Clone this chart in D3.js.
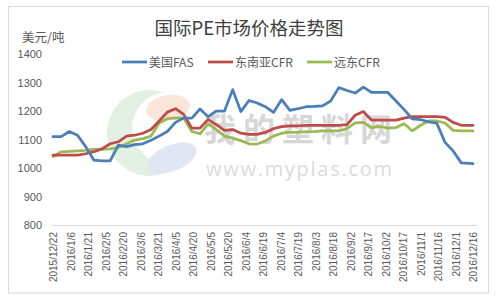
<!DOCTYPE html>
<html><head><meta charset="utf-8">
<script src="https://cdn.jsdelivr.net/npm/d3@7"></script>
<style>html,body{margin:0;padding:0;background:#fff;}svg{display:block;}</style>
</head><body>
<svg id="c" width="500" height="304"></svg>
<script>
const title = "国际PE市场价格走势图";
const unitLabel = "美元/吨";
const seriesNames = ["美国FAS", "东南亚CFR", "远东CFR"];
const seriesColors = ["#4a7ebb", "#be4b48", "#98b954"];
const dates = ["2015-12-22","2015-12-29","2016-01-05","2016-01-12","2016-01-19","2016-01-26","2016-02-02","2016-02-09","2016-02-16","2016-02-23","2016-03-01","2016-03-08","2016-03-15","2016-03-22","2016-03-29","2016-04-05","2016-04-12","2016-04-19","2016-04-26","2016-05-03","2016-05-10","2016-05-17","2016-05-24","2016-05-31","2016-06-07","2016-06-14","2016-06-21","2016-06-28","2016-07-05","2016-07-12","2016-07-19","2016-07-26","2016-08-02","2016-08-09","2016-08-16","2016-08-23","2016-08-30","2016-09-06","2016-09-13","2016-09-20","2016-09-27","2016-10-04","2016-10-11","2016-10-18","2016-10-25","2016-11-01","2016-11-08","2016-11-15","2016-11-22","2016-11-29","2016-12-06","2016-12-16"];
const usFAS = [1110,1110,1128,1115,1075,1028,1025,1025,1080,1075,1082,1085,1097,1112,1128,1160,1175,1175,1207,1180,1200,1200,1275,1198,1237,1228,1215,1195,1240,1202,1208,1215,1216,1218,1235,1282,1272,1263,1284,1265,1265,1265,1235,1205,1172,1170,1162,1157,1090,1060,1018,1015];
const seaCFR = [1045,1045,1045,1045,1050,1057,1067,1085,1092,1112,1115,1122,1135,1165,1196,1208,1188,1140,1140,1170,1152,1132,1135,1122,1118,1118,1125,1138,1145,1148,1148,1150,1150,1150,1150,1150,1152,1185,1198,1168,1168,1168,1168,1175,1180,1180,1180,1180,1178,1160,1150,1150];
const feCFR = [1040,1057,1058,1060,1062,1065,1065,1067,1072,1085,1098,1103,1112,1158,1173,1176,1175,1128,1120,1155,1135,1112,1105,1096,1085,1084,1095,1112,1122,1125,1126,1127,1128,1130,1130,1130,1138,1158,1160,1142,1146,1140,1142,1155,1130,1150,1165,1165,1158,1132,1130,1130];
const yTicks = [800,900,1000,1100,1200,1300,1400];
const xTickDates = ["2015-12-22","2016-01-06","2016-01-21","2016-02-05","2016-02-20","2016-03-06","2016-03-21","2016-04-05","2016-04-20","2016-05-05","2016-05-20","2016-06-04","2016-06-19","2016-07-04","2016-07-19","2016-08-03","2016-08-18","2016-09-02","2016-09-17","2016-10-02","2016-10-17","2016-11-01","2016-11-16","2016-12-01","2016-12-16"];
const xTickLabels = ["2015/12/22","2016/1/6","2016/1/21","2016/2/5","2016/2/20","2016/3/6","2016/3/21","2016/4/5","2016/4/20","2016/5/5","2016/5/20","2016/6/4","2016/6/19","2016/7/4","2016/7/19","2016/8/3","2016/8/18","2016/9/2","2016/9/17","2016/10/2","2016/10/17","2016/11/1","2016/11/16","2016/12/1","2016/12/16"];

const parse = d3.utcParse("%Y-%m-%d");
const svg = d3.select("#c");
const cjk = "'Noto Sans CJK SC','Noto Sans',sans-serif";
const num = "'Liberation Sans',Arial,sans-serif";

// frame
svg.append("rect").attr("x",8.5).attr("y",6.5).attr("width",480).attr("height",286.5)
  .attr("fill","#fff").attr("stroke","#d9d9d9").attr("stroke-width",1);

const x = d3.scaleUtc().domain([parse("2015-12-22"), parse("2016-12-16")]).range([53, 473]);
const y = d3.scaleLinear().domain([800, 1400]).range([225, 54]);

// watermark
const wm = svg.append("g").attr("opacity",0.45);
wm.append("circle").attr("cx",150).attr("cy",133).attr("r",43).attr("fill","#bfdcc3");
wm.append("circle").attr("cx",168).attr("cy",128).attr("r",36).attr("fill","#fff");
wm.append("ellipse").attr("cx",168).attr("cy",108).attr("rx",22).attr("ry",13)
  .attr("transform","rotate(-10,168,108)").attr("fill","#f6c9ad");
wm.append("ellipse").attr("cx",172).attr("cy",158).attr("rx",26).attr("ry",13)
  .attr("transform","rotate(-22,172,158)").attr("fill","#bcc8e4");
wm.append("text").attr("x",204).attr("y",141).attr("font-family",cjk).attr("font-weight","bold")
  .attr("font-size",32).attr("fill","#a8a8a8").attr("textLength",188).text("我的塑料网");
wm.append("text").attr("x",206).attr("y",176).attr("font-family","'Open Sans',sans-serif")
  .attr("font-size",20).attr("fill","#b0b0b0").attr("textLength",186).text("www.myplas.com");

// title
svg.append("text").attr("x",249).attr("y",35).attr("text-anchor","middle")
  .attr("font-family",cjk).attr("font-size",18.5).attr("fill","#404040").text(title);
svg.append("text").attr("x",22).attr("y",42).attr("font-family",cjk)
  .attr("font-size",12.5).attr("fill","#595959").text(unitLabel);

// y labels
svg.append("g").selectAll("text").data(yTicks).join("text")
  .attr("x",42).attr("y",d=>y(d)+4).attr("text-anchor","end")
  .attr("font-family",num).attr("font-size",11).attr("fill","#595959").text(d=>d);

// baseline
svg.append("line").attr("x1",52).attr("x2",477).attr("y1",y(800)+0.5).attr("y2",y(800)+0.5)
  .attr("stroke","#d9d9d9").attr("stroke-width",1);

// x axis
const xAxis = d3.axisBottom(x).tickValues(xTickDates.map(parse))
  .tickFormat((d,i)=>xTickLabels[i]).tickSize(0);
const gx = svg.append("g").attr("transform","translate(0,226)").call(xAxis);
gx.select(".domain").remove();
gx.selectAll("text").attr("transform","rotate(-90)").attr("text-anchor","end")
  .attr("x",-6).attr("y",0).attr("dy","0.35em")
  .attr("font-family",num).attr("font-size",10).attr("fill","#595959");

// lines
const seriesValues = [usFAS, seaCFR, feCFR];
const line = d3.line().x((d,i)=>x(parse(dates[i]))).y(d=>y(d));
const order = [2,1,0];
svg.append("g").selectAll("path").data(order).join("path")
  .attr("d",k=>line(seriesValues[k])).attr("fill","none")
  .attr("stroke",k=>seriesColors[k]).attr("stroke-width",2.75)
  .attr("stroke-linejoin","round").attr("stroke-linecap","round");

// legend
const legX = [122, 208, 307];
const lg = svg.append("g").selectAll("g").data(seriesNames).join("g")
  .attr("transform",(d,i)=>`translate(${legX[i]},62)`);
lg.append("line").attr("x1",0).attr("x2",25).attr("y1",0).attr("y2",0)
  .attr("stroke",(d,i)=>seriesColors[i]).attr("stroke-width",2.75);
lg.append("text").attr("x",27).attr("y",4.5).attr("font-family",cjk)
  .attr("font-size",12).attr("fill","#595959").text(d=>d);
</script>
</body></html>
